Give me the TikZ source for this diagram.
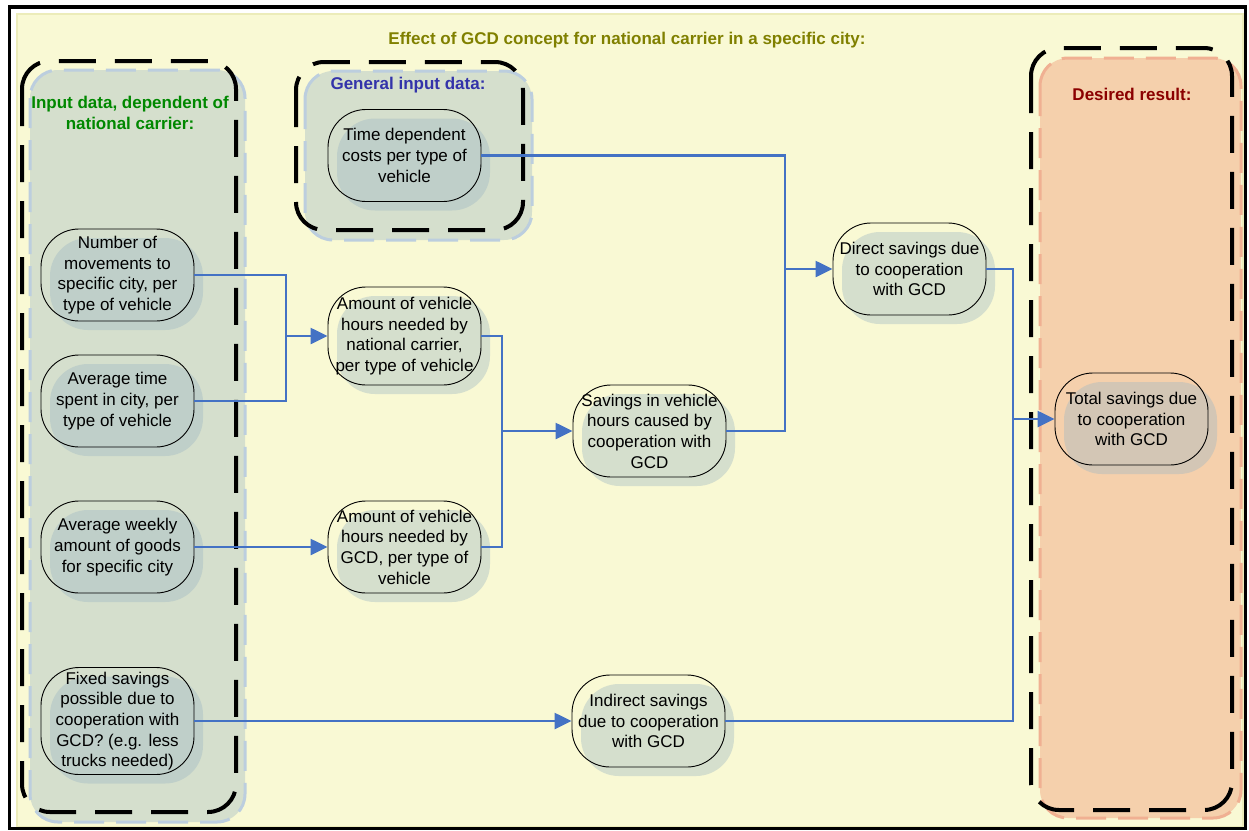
\documentclass[tikz,border=0pt]{standalone}
\usepackage{fontspec}
\setmainfont{Liberation Sans}
\usetikzlibrary{arrows.meta,shadows}
\definecolor{bgyellow}{RGB}{249,249,212}
\definecolor{bgborder}{RGB}{236,236,186}
\definecolor{shadowc}{RGB}{160,185,195}
\definecolor{lightdash}{RGB}{188,206,222}
\definecolor{salmon}{RGB}{245,208,172}
\definecolor{salmondash}{RGB}{240,176,146}
\definecolor{connc}{RGB}{68,114,196}
\definecolor{titlec}{RGB}{128,128,0}
\definecolor{greenc}{RGB}{0,136,0}
\definecolor{bluec}{RGB}{51,51,170}
\definecolor{redc}{RGB}{139,0,0}
\begin{document}
\begin{tikzpicture}[x=1pt,y=-1pt,
  box/.style={draw=black, line width=0.9pt, rounded corners=38pt, minimum width=153pt, minimum height=92pt, align=center, inner sep=0pt, font=\fontsize{17}{20.7}\selectfont, general shadow={fill=shadowc, fill opacity=0.4, shadow xshift=9pt, shadow yshift=-9pt}},
  conn/.style={draw=connc, line width=2.4pt},
  arr/.style={conn, -{Triangle[length=17pt,width=16pt]}},
  hdr/.style={font=\bfseries\fontsize{17}{21}\selectfont, align=center},
  bigdash/.style={draw=black, line width=4pt, dash pattern=on 37pt off 19pt, rounded corners=28pt},
  paneldash/.style={draw=lightdash, line width=3pt, dash pattern=on 30pt off 12pt, rounded corners=28pt, fill=shadowc, fill opacity=0.4, draw opacity=1}
]
\useasboundingbox (0,0) rectangle (1249,830);
% background
\path[fill=white] (0,0) rectangle (1249,830);
\draw[fill=bgyellow, draw=bgborder, line width=1.5pt] (17,14) rectangle (1243,826.5);
\draw[line width=3.5pt] (9.5,7) rectangle (1245.5,828.5);
% panels
\path[paneldash] (30,70) rectangle (245,822);
\path[paneldash] (305,71) rectangle (532,240);
\path[draw=salmondash, line width=3pt, dash pattern=on 30pt off 12pt, rounded corners=28pt, fill=salmon] (1040,58) rectangle (1241,818);
\draw[bigdash] (22,61) rectangle (236,812);
\draw[bigdash] (296,62) rectangle (523,230);
\draw[bigdash] (1031,48) rectangle (1232,810);
% titles
\node[hdr, text=titlec] (title) at (627,40) {Effect of GCD concept for national carrier in a specific city:};
\node[hdr, text=greenc] (hin) at (130,113) {Input data, dependent of\\national carrier:};
\node[hdr, text=bluec] (hgen) at (408,85) {General input data:};
\node[hdr, text=redc] (hres) at (1132,94) {Desired result:};
% nodes
\node[box] (tdc) at (404.5,155.5) {Time dependent\\costs per type of\\vehicle};
\node[box] (nm) at (117.5,275) {Number of\\movements to\\specific city, per\\type of vehicle};
\node[box] (at) at (117.5,401) {Average time\\spent in city, per\\type of vehicle};
\node[box] (aw) at (117.5,547) {Average weekly\\amount of goods\\for specific city};
\node[box, minimum height=107pt] (fs) at (117.5,721) {Fixed savings\\possible due to\\cooperation with\\GCD? (e.g. less\\trucks needed)};
\node[box, minimum height=98pt] (vhn) at (404.5,336) {Amount of vehicle\\hours needed by\\national carrier,\\per type of vehicle};
\node[box] (vhg) at (404.5,547) {Amount of vehicle\\hours needed by\\GCD, per type of\\vehicle};
\node[box] (svh) at (649.5,431) {Savings in vehicle\\hours caused by\\cooperation with\\GCD};
\node[box] (ds) at (909.5,269) {Direct savings due\\to cooperation\\with GCD};
\node[box] (is) at (648.5,721) {Indirect savings\\due to cooperation\\with GCD};
\node[box] (ts) at (1131.5,419) {Total savings due\\to cooperation\\with GCD};
% connectors
\coordinate (j1) at (286,336);
\coordinate (j2) at (502,431);
\coordinate (j3) at (785,269);
\coordinate (j4) at (1013,419);
\draw[conn] (nm.east) -| (j1);
\draw[conn] (at.east) -| (j1);
\draw[arr] (j1) -- (vhn.west);
\draw[conn] (vhn.east) -| (j2);
\draw[conn] (vhg.east) -| (j2);
\draw[arr] (j2) -- (svh.west);
\draw[arr] (aw.east) -- (vhg.west);
\draw[arr] (fs.east) -- (is.west);
\draw[conn] (tdc.east) -| (j3);
\draw[conn] (svh.east) -| (j3);
\draw[arr] (j3) -- (ds.west);
\draw[conn] (ds.east) -| (j4);
\draw[conn] (is.east) -| (j4);
\draw[arr] (j4) -- (ts.west);
\end{tikzpicture}
\end{document}
